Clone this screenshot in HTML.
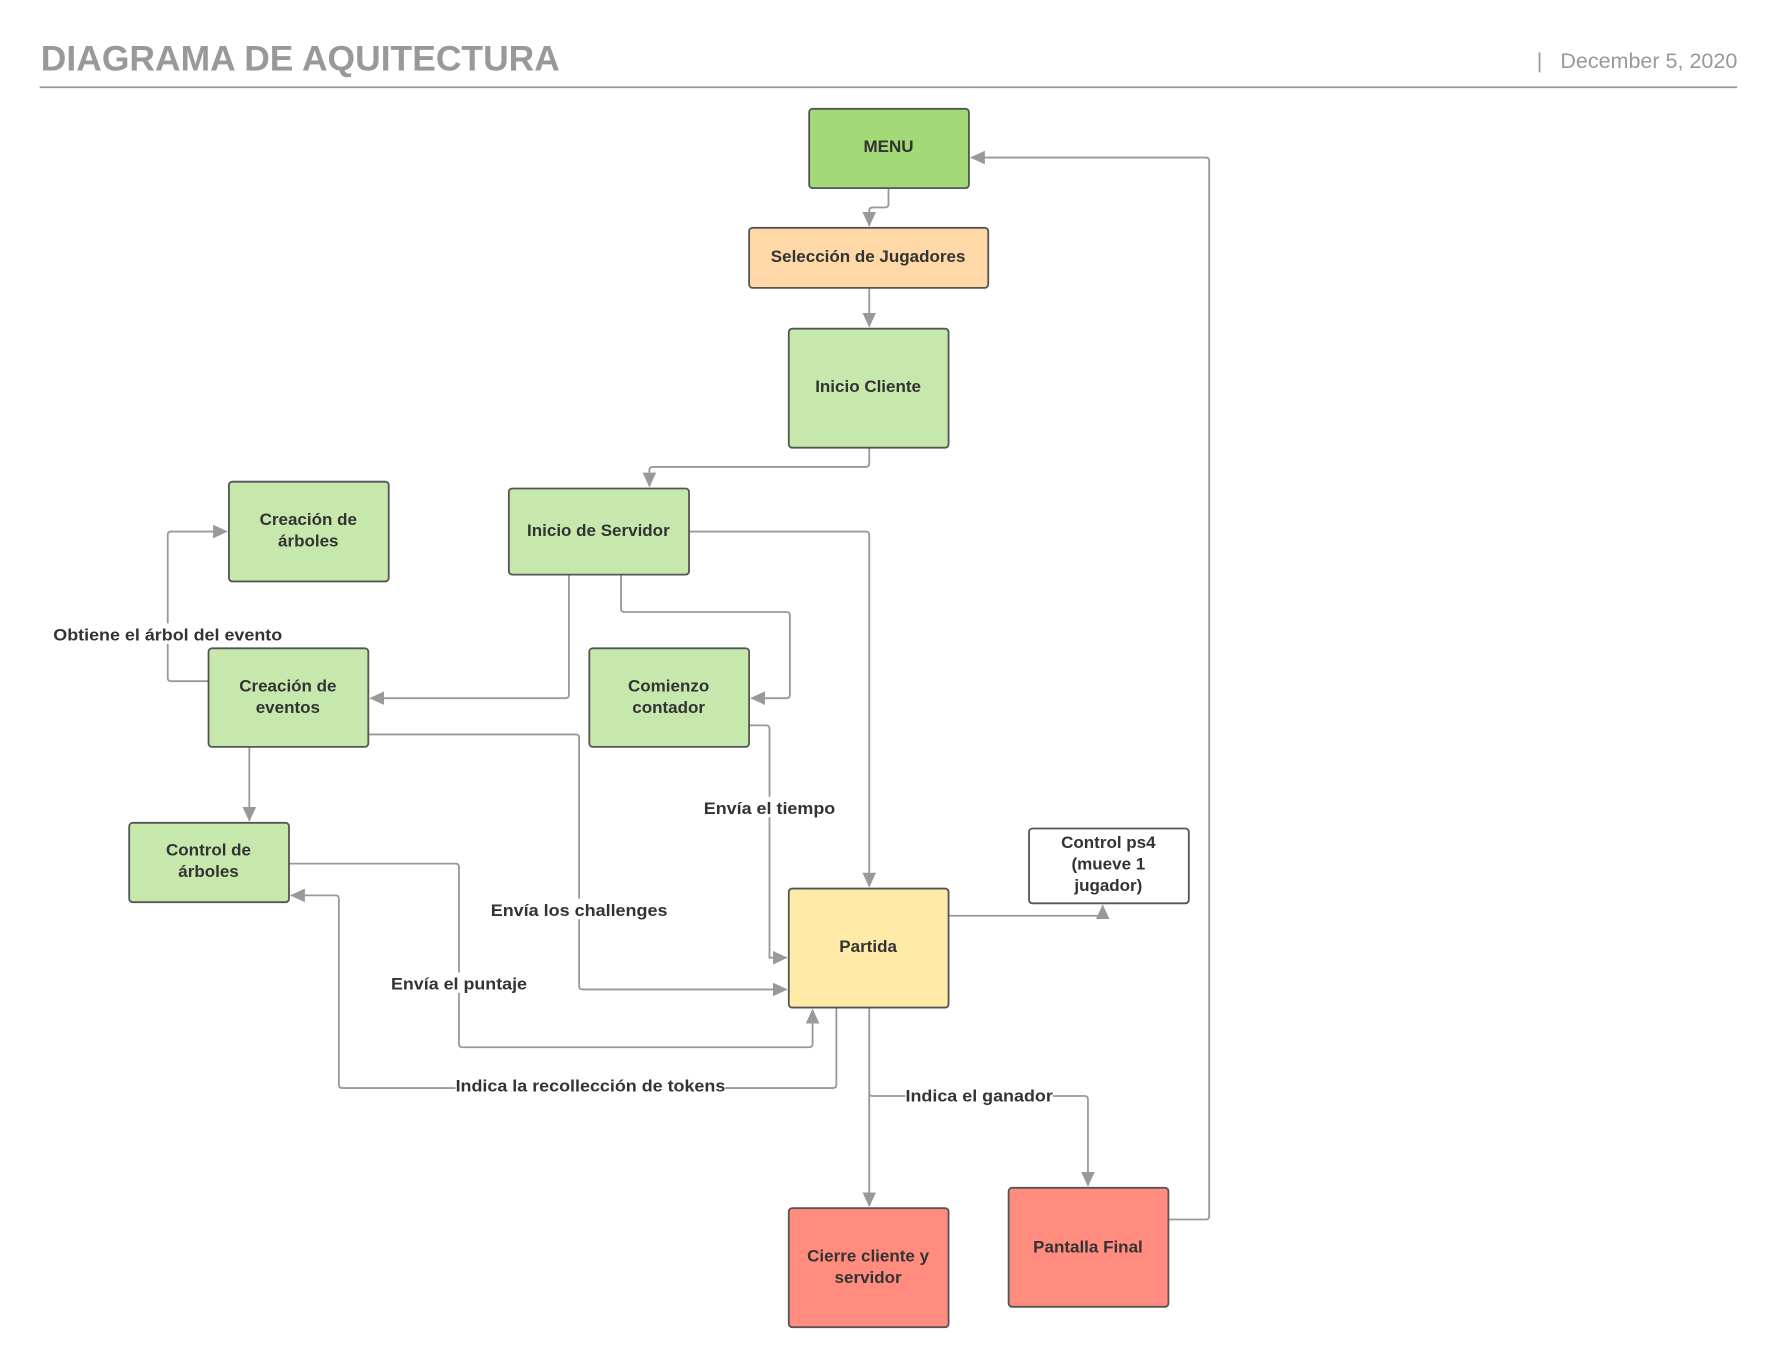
<!DOCTYPE html>
<html><head><meta charset="utf-8"><style>
html,body{margin:0;padding:0;background:#fff;}
svg{display:block;}
text{font-family:"Liberation Sans",Arial,sans-serif;}
.n{font-size:15px;font-weight:bold;fill:#333;text-anchor:middle;}
.l{font-size:15px;font-weight:bold;fill:#333;text-anchor:middle;}
.c{fill:none;stroke:#999;stroke-width:1.6;}
.b{stroke:#555;stroke-width:1.6;}
</style></head><body>
<svg width="1777" height="1368" viewBox="0 0 1568 1207" preserveAspectRatio="none" xmlns="http://www.w3.org/2000/svg">
<defs><marker id="a" markerWidth="13" markerHeight="12" refX="12" refY="6" orient="auto" markerUnits="userSpaceOnUse"><path d="M0,0 L13,6 L0,12 z" fill="#999"/></marker></defs>
<text x="36" y="62" textLength="458" lengthAdjust="spacingAndGlyphs" style="font-size:31px;font-weight:bold;fill:#999">DIAGRAMA DE AQUITECTURA</text>
<text x="1533" y="60" style="font-size:19px;fill:#999;text-anchor:end">|&#160;&#160;&#160;December 5, 2020</text>
<line x1="35" y1="77" x2="1533" y2="77" stroke="#999" stroke-width="1.5"/>
<path class="c" d="M784,166 V180 Q784,183 781,183 H770 Q767,183 767,186 V199" marker-end="url(#a)"/>
<path class="c" d="M767,254 V288" marker-end="url(#a)"/>
<path class="c" d="M767,395 V409 Q767,412 764,412 H576 Q573,412 573,415 V429" marker-end="url(#a)"/>
<path class="c" d="M608,469 H764 Q767,469 767,472 V782" marker-end="url(#a)"/>
<path class="c" d="M502,507 V613 Q502,616 499,616 H327" marker-end="url(#a)"/>
<path class="c" d="M548,507 V537 Q548,540 551,540 H694 Q697,540 697,543 V613 Q697,616 694,616 H663" marker-end="url(#a)"/>
<path class="c" d="M184,601 H151 Q148,601 148,598 V472 Q148,469 151,469 H200" marker-end="url(#a)"/>
<path class="c" d="M220,659 V724" marker-end="url(#a)"/>
<path class="c" d="M325,648 H508 Q511,648 511,651 V870 Q511,873 514,873 H694" marker-end="url(#a)"/>
<path class="c" d="M661,640 H676 Q679,640 679,643 V845 H694" marker-end="url(#a)"/>
<path class="c" d="M255,762 H402 Q405,762 405,765 V921 Q405,924 408,924 H714 Q717,924 717,921 V891" marker-end="url(#a)"/>
<path class="c" d="M738,889 V957 Q738,960 735,960 H302 Q299,960 299,957 V793 Q299,790 296,790 H257" marker-end="url(#a)"/>
<path class="c" d="M837,808 H973 V799" marker-end="url(#a)"/>
<path class="c" d="M767,889 V1064" marker-end="url(#a)"/>
<path class="c" d="M767,964 Q767,967 770,967 H957 Q960,967 960,970 V1046" marker-end="url(#a)"/>
<path class="c" d="M1031,1076 H1064 Q1067,1076 1067,1073 V142 Q1067,139 1064,139 H857" marker-end="url(#a)"/>
<g>
<rect x="46" y="550" width="204" height="18" fill="#fff"/><text class="l" x="148" y="565" textLength="202" lengthAdjust="spacingAndGlyphs">Obtiene el árbol del evento</text>
<rect x="620" y="703" width="118" height="18" fill="#fff"/><text class="l" x="679" y="718" textLength="116" lengthAdjust="spacingAndGlyphs">Envía el tiempo</text>
<rect x="432" y="793" width="158" height="18" fill="#fff"/><text class="l" x="511" y="808" textLength="156" lengthAdjust="spacingAndGlyphs">Envía los challenges</text>
<rect x="344" y="858" width="122" height="18" fill="#fff"/><text class="l" x="405" y="873" textLength="120" lengthAdjust="spacingAndGlyphs">Envía el puntaje</text>
<rect x="402" y="948" width="238" height="18" fill="#fff"/><text class="l" x="521" y="963" textLength="238" lengthAdjust="spacingAndGlyphs">Indica la recollección de tokens</text>
<rect x="799" y="957" width="130" height="18" fill="#fff"/><text class="l" x="864" y="972" textLength="130" lengthAdjust="spacingAndGlyphs">Indica el ganador</text>
</g>
<rect class="b" x="714" y="96" width="141" height="70" rx="3" fill="#a3d977"/><text class="n" x="784" y="134">MENU</text>
<rect class="b" x="661" y="201" width="211" height="53" rx="3" fill="#ffd8a8"/><text class="n" x="766" y="231">Selección de Jugadores</text>
<rect class="b" x="696" y="290" width="141" height="105" rx="3" fill="#c7e8ac"/><text class="n" x="766" y="346">Inicio Cliente</text>
<rect class="b" x="449" y="431" width="159" height="76" rx="3" fill="#c7e8ac"/><text class="n" x="528" y="473">Inicio de Servidor</text>
<rect class="b" x="202" y="425" width="141" height="88" rx="3" fill="#c7e8ac"/><text class="n" x="272" y="463">Creación de</text><text class="n" x="272" y="482">árboles</text>
<rect class="b" x="184" y="572" width="141" height="87" rx="3" fill="#c7e8ac"/><text class="n" x="254" y="610">Creación de</text><text class="n" x="254" y="629">eventos</text>
<rect class="b" x="520" y="572" width="141" height="87" rx="3" fill="#c7e8ac"/><text class="n" x="590" y="610">Comienzo</text><text class="n" x="590" y="629">contador</text>
<rect class="b" x="114" y="726" width="141" height="70" rx="3" fill="#c7e8ac"/><text class="n" x="184" y="755">Control de</text><text class="n" x="184" y="774">árboles</text>
<rect class="b" x="908" y="731" width="141" height="66" rx="3" fill="#fff"/><text class="n" x="978" y="748">Control ps4</text><text class="n" x="978" y="767">(mueve 1</text><text class="n" x="978" y="786">jugador)</text>
<rect class="b" x="696" y="784" width="141" height="105" rx="3" fill="#ffeaa7"/><text class="n" x="766" y="840">Partida</text>
<rect class="b" x="696" y="1066" width="141" height="105" rx="3" fill="#ff8c7f"/><text class="n" x="766" y="1113">Cierre cliente y</text><text class="n" x="766" y="1132">servidor</text>
<rect class="b" x="890" y="1048" width="141" height="105" rx="3" fill="#ff8c7f"/><text class="n" x="960" y="1105">Pantalla Final</text>
</svg>
</body></html>
